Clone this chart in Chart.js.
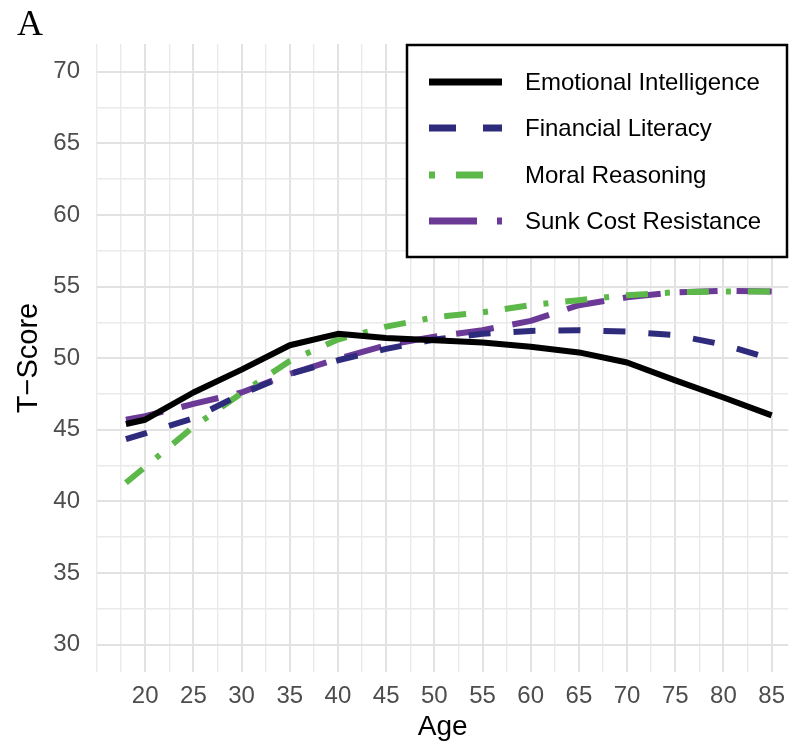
<!DOCTYPE html>
<html>
<head>
<meta charset="utf-8">
<script src="https://cdn.jsdelivr.net/npm/chart.js@4"></script>
<style>
  body { margin: 0; background: #fff; }
  #wrap { width: 795px; height: 744px; }
</style>
</head>
<body>
<div id="wrap"><canvas id="chart" width="795" height="744"></canvas></div>
<script>
// ages sampled along each curve
const ages = [18, 20, 25, 30, 35, 40, 45, 50, 55, 60, 65, 70, 75, 80, 85];

const emotional = [45.4, 45.7, 47.6, 49.2, 50.9, 51.7, 51.4, 51.25, 51.1, 50.8, 50.4, 49.7, 48.45, 47.25, 46.0];
const financial = [44.35, 44.75, 45.8, 47.5, 48.9, 49.85, 50.65, 51.3, 51.7, 51.9, 51.95, 51.85, 51.6, 50.95, 49.95];
const moral = [41.3, 42.4, 45.2, 47.55, 49.8, 51.3, 52.2, 52.85, 53.2, 53.7, 54.05, 54.4, 54.6, 54.65, 54.65];
const sunkCost = [45.7, 45.95, 46.8, 47.6, 48.9, 49.95, 50.9, 51.5, 51.95, 52.6, 53.7, 54.25, 54.6, 54.7, 54.65];

const seriesNames = ["Emotional Intelligence", "Financial Literacy", "Moral Reasoning", "Sunk Cost Resistance"];

const xTicks = [15, 17.5, 20, 22.5, 25, 27.5, 30, 32.5, 35, 37.5, 40, 42.5, 45, 47.5, 50, 52.5, 55, 57.5, 60, 62.5, 65, 67.5, 70, 72.5, 75, 77.5, 80, 82.5, 85];
const yTicks = [30, 32.5, 35, 37.5, 40, 42.5, 45, 47.5, 50, 52.5, 55, 57.5, 60, 62.5, 65, 67.5, 70];

const colors = ["#000000", "#2e2b7d", "#5cb848", "#6b3996"];
const dashes = [[], [22, 23], [22, 17, 5, 17], [38, 19]];
const legendDashes = [[], [27, 27], [6, 21, 27, 21], [48, 20, 5, 20]];

const toPoints = (vals) => vals.map((v, i) => ({ x: ages[i], y: v }));

// box legend in the top right + the panel letter
const legendBox = {
  id: "legendBox",
  afterDraw(chart) {
    const ctx = chart.ctx;
    ctx.save();
    ctx.fillStyle = "#000";
    ctx.font = "36px 'Liberation Serif', serif";
    ctx.textBaseline = "alphabetic";
    ctx.fillText("A", 17, 35);

    ctx.fillStyle = "#fff";
    ctx.fillRect(407, 45, 380, 212);
    ctx.strokeStyle = "#000";
    ctx.lineWidth = 2.5;
    ctx.strokeRect(407, 45, 380, 212);

    const rows = [82, 128, 175, 221];
    ctx.font = "24px 'Liberation Sans', Arial, sans-serif";
    ctx.textBaseline = "middle";
    seriesNames.forEach((name, i) => {
      ctx.beginPath();
      ctx.setLineDash(legendDashes[i]);
      ctx.lineCap = "butt";
      ctx.lineWidth = 7;
      ctx.strokeStyle = colors[i];
      ctx.moveTo(429, rows[i]);
      ctx.lineTo(502, rows[i]);
      ctx.stroke();
      ctx.setLineDash([]);
      ctx.fillStyle = "#000";
      ctx.fillText(name, 525, rows[i] + 1);
    });
    ctx.restore();
  },
};

const gridColor = (c) => (c.tick && c.tick.label !== "" ? "#e2e2e2" : "#eaeaea");
const gridWidth = (c) => (c.tick && c.tick.label !== "" ? 2 : 1.4);

new Chart(document.getElementById("chart"), {
  type: "line",
  data: {
    datasets: seriesNames.map((name, i) => ({
      label: name,
      data: toPoints([emotional, financial, moral, sunkCost][i]),
      borderColor: colors[i],
      borderWidth: 6,
      borderDash: dashes[i],
      borderCapStyle: "butt",
      borderJoinStyle: "round",
      pointRadius: 0,
      tension: 0,
      fill: false,
    })),
  },
  options: {
    responsive: false,
    animation: false,
    layout: { padding: { top: 44, left: 0, right: 0, bottom: 0 } },
    plugins: { legend: { display: false }, tooltip: { enabled: false } },
    scales: {
      x: {
        type: "linear",
        min: 15,
        max: 86.73,
        afterBuildTicks: (axis) => { axis.ticks = xTicks.map((v) => ({ value: v })); },
        afterFit: (axis) => { axis.height = 72; },
        ticks: {
          autoSkip: false,
          maxRotation: 0,
          padding: 10,
          color: "#4d4d4d",
          font: { family: "'Liberation Sans', Arial, sans-serif", size: 24 },
          callback: (v) => (v % 5 === 0 && v >= 20 ? String(v) : ""),
        },
        grid: { color: gridColor, lineWidth: gridWidth, drawTicks: false },
        border: { display: false },
        title: {
          display: true,
          text: "Age",
          color: "#000",
          padding: { top: 0, bottom: 0 },
          font: { family: "'Liberation Sans', Arial, sans-serif", size: 28 },
        },
      },
      y: {
        min: 28.08,
        max: 71.94,
        afterBuildTicks: (axis) => { axis.ticks = yTicks.map((v) => ({ value: v })); },
        afterFit: (axis) => { axis.width = 97; },
        ticks: {
          autoSkip: false,
          padding: 17,
          color: "#4d4d4d",
          font: { family: "'Liberation Sans', Arial, sans-serif", size: 24 },
          callback: (v) => (v % 5 === 0 ? String(v) : ""),
        },
        grid: { color: gridColor, lineWidth: gridWidth, drawTicks: false },
        border: { display: false },
        title: {
          display: true,
          text: "T\u2212Score",
          color: "#000",
          padding: { top: 12, bottom: 0 },
          font: { family: "'Liberation Sans', Arial, sans-serif", size: 29 },
        },
      },
    },
  },
  plugins: [legendBox],
});
</script>
</body>
</html>
